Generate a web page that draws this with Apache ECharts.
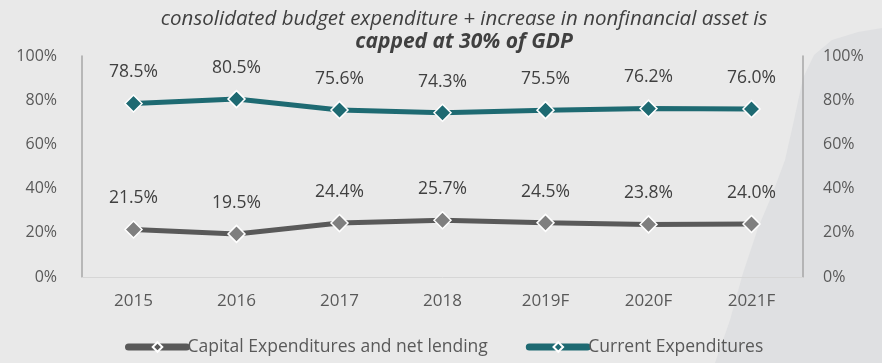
<!DOCTYPE html>
<html>
<head>
<meta charset="utf-8">
<script src="https://cdn.jsdelivr.net/npm/echarts@6/dist/echarts.min.js"></script>
<style>
  html, body { margin: 0; padding: 0; }
  #chart { width: 882px; height: 363px; }
</style>
</head>
<body>
<div id="chart"></div>
<script>
// Share of consolidated budget expenditure, by year
const years = ['2015', '2016', '2017', '2018', '2019F', '2020F', '2021F'];
const capitalExp = [21.5, 19.5, 24.4, 25.7, 24.5, 23.8, 24.0];
const currentExp = [78.5, 80.5, 75.6, 74.3, 75.5, 76.2, 76.0];
const axisTicks = [0, 20, 40, 60, 80, 100];

const FONT = '"Open Sans", "Noto Sans", sans-serif';
const GREY = '#595959';
const TEXT = '#404040';
const TEAL = '#1e6a72';

const chart = echarts.init(document.getElementById('chart'), null, { renderer: 'canvas' });

// Decorative backdrop sweep on the right edge
const sweep = [
  [715, 363], [730, 320], [743, 273], [758, 228], [772, 195], [785, 160],
  [794, 120], [803, 78], [814, 55], [832, 40], [858, 32], [882, 28], [882, 363]
];

function yAxis(pos) {
  return {
    type: 'value', position: pos,
    min: axisTicks[0], max: axisTicks[axisTicks.length - 1], interval: 20,
    axisLine: { show: true, lineStyle: { color: '#a6a6a6', width: 1.5 } },
    axisTick: { show: false },
    splitLine: { show: false },
    axisLabel: {
      formatter: v => v + '%', color: GREY, fontFamily: FONT, fontSize: 16,
      margin: pos === 'left' ? 25 : 20, align: pos === 'left' ? 'right' : 'left'
    }
  };
}

function lineSeries(name, data, color, markerColor) {
  return {
    name, type: 'line', data, yAxisIndex: 0,
    symbol: 'diamond', symbolSize: 17,
    lineStyle: { color, width: 5 },
    itemStyle: { color: markerColor, borderColor: '#ffffff', borderWidth: 1.5 },
    label: {
      show: true, position: 'top', distance: 13,
      formatter: p => p.value.toFixed(1) + '%',
      color: TEXT, fontFamily: FONT, fontSize: 17.5
    },
    emphasis: { disabled: true },
    animation: false
  };
}

chart.setOption({
  backgroundColor: '#e9e9e9',
  graphic: [{
    type: 'polygon', silent: true, z: -10,
    shape: { points: sweep, smooth: 0 },
    style: { fill: '#dfe0e2' }
  }],
  title: {
    text: '{n|consolidated budget expenditure + increase in nonfinancial asset is}\n{b|capped at 30% of GDP}',
    left: 459, top: 3, textAlign: 'center',
    textStyle: {
      fontWeight: 'normal',
      rich: {
        n: { fontFamily: FONT, fontStyle: 'italic', fontWeight: 'normal', fontSize: 20.5, color: TEXT, lineHeight: 23 },
        b: { fontFamily: FONT, fontStyle: 'italic', fontWeight: 'bold', fontSize: 21, color: TEXT, lineHeight: 23 }
      }
    }
  },
  grid: { left: 82, right: 79, top: 56, bottom: 86 },
  xAxis: {
    type: 'category', data: years, boundaryGap: true,
    axisLine: { show: true, lineStyle: { color: '#d6d6d6', width: 1 } },
    axisTick: { show: false },
    axisLabel: { color: GREY, fontFamily: FONT, fontSize: 17, margin: 16 }
  },
  yAxis: [yAxis('left'), yAxis('right')],
  legend: {
    bottom: 2, left: 120, itemGap: 38, itemWidth: 58, itemHeight: 12,
    textStyle: { color: GREY, fontFamily: FONT, fontSize: 17.5, padding: [0, 0, 0, -4] },
    data: [
      { name: 'Capital Expenditures and net lending', itemStyle: { color: GREY, borderColor: '#ffffff', borderWidth: 2 }, lineStyle: { width: 7, cap: 'round' } },
      { name: 'Current Expenditures', itemStyle: { color: TEAL, borderColor: '#ffffff', borderWidth: 2 }, lineStyle: { width: 7, cap: 'round' } }
    ]
  },
  series: [
    lineSeries('Capital Expenditures and net lending', capitalExp, GREY, '#7f7f7f'),
    lineSeries('Current Expenditures', currentExp, TEAL, TEAL)
  ]
});
</script>
</body>
</html>
